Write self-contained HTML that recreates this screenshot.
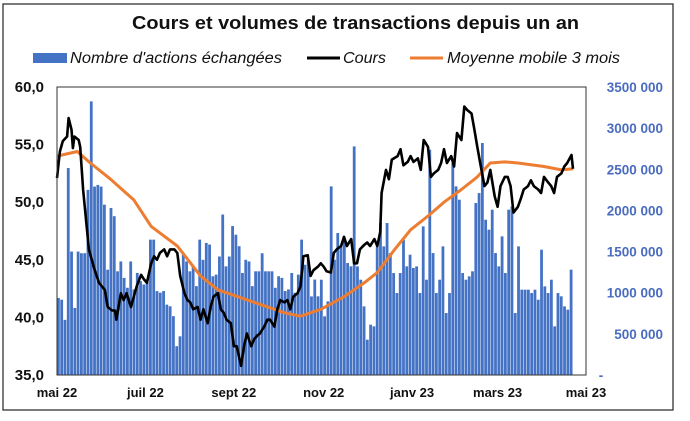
<!DOCTYPE html>
<html><head><meta charset="utf-8"><style>
body{margin:0;background:#fff;}
svg text{font-family:"Liberation Sans",Arial,sans-serif;}
</style></head><body>
<svg id="chart" width="690" height="416" viewBox="0 0 690 416" xmlns="http://www.w3.org/2000/svg">
<rect x="3" y="4" width="670" height="406" fill="#fff" stroke="#222" stroke-width="1.2"/>
<text x="132" y="29" font-weight="bold" font-size="18.5" textLength="447" lengthAdjust="spacingAndGlyphs" fill="#111">Cours et volumes de transactions  depuis un an</text>
<g>
<g><rect x="33" y="53" width="34" height="10" fill="#4472C4"/><text x="70" y="63" font-style="italic" font-size="15.5" fill="#111" textLength="212" lengthAdjust="spacingAndGlyphs">Nombre d'actions échangées</text></g>
<g><line x1="307" y1="58" x2="340" y2="58" stroke="#000" stroke-width="3"/><text x="343" y="63" font-style="italic" font-size="15.5" fill="#111" textLength="43" lengthAdjust="spacingAndGlyphs">Cours</text></g>
<g><line x1="410" y1="58" x2="443" y2="58" stroke="#ED7D31" stroke-width="3"/><text x="447" y="63" font-style="italic" font-size="15.5" fill="#111" textLength="173" lengthAdjust="spacingAndGlyphs">Moyenne mobile 3 mois</text></g>
</g>
<g id="bars"></g>
<path id="ma" fill="none" stroke="#ED7D31" stroke-width="3" stroke-linejoin="round"/>
<path id="price" fill="none" stroke="#000" stroke-width="2.6" stroke-linejoin="round"/>
<rect x="57" y="87" width="529" height="288" fill="none" stroke="#333" stroke-width="1"/>
<g id="yleft"></g>
<g id="yright"></g>
<g id="xaxis"></g>
</svg>
<script>
const volumes=[936,915,670,2515,1500,815,1500,1480,1480,2250,3325,2290,2310,2290,2070,1280,2030,1930,1260,1380,1180,1060,1380,1040,1240,1140,1100,1160,1645,1645,1020,1000,1020,855,835,715,350,470,1480,1380,1260,1320,1080,1645,1400,1605,1585,1200,1220,1440,1950,1320,1440,1810,1705,1565,1240,1400,1380,1080,1260,1260,1480,1260,1260,1260,1060,1200,1180,1020,1040,1240,1000,1220,1645,1340,1400,955,1160,
956,1158,713,895,2292,1401,1725,1563,1644,1361,1320,2778,1320,1158,834,429,612,591,1563,1847,1563,1847,1482,1239,996,1239,1644,1320,1462,1300,1320,996,1806,1158,2738,1482,996,1158,1563,753,996,2576,2292,2130,1239,1158,1199,1260,2090,2211,2819,1887,1766,2009,1482,1320,1685,1239,2009,2049,753,1563,1037,1037,1037,996,1037,915,1523,1077,996,1158,591,996,956,834,794,1280];
const priceDays=[0,2,4,7,8,10,11,12,15,16,18,20,22,24,26,29,31,33,35,38,40,41,44,46,48,51,53,55,58,60,62,65,67,69,71,74,76,78,81,83,85,88,90,92,94,97,99,101,104,106,108,111,113,115,117,120,122,124,127,129,131,134,136,138,140,143,145,147,150,152,154,157,159,161,163,166,168,170,173,175,177,180,182,184,186,189,191,193,196,198,200,203,205,207,209,212,214,216,219,221,223,224,227,229,231,235,237,239,242,244,246,249,251,253,256,258,260,263,265,267,269,272,274,276,279,281,283,286,288,290,292,295,297,299,302,304,306,309,311,313,315,318,320,322,325,327,329,332,334,336,339,341,343,345,348,350,352,355,356];
const prices=[52.1,54.4,55.3,55.7,57.3,56.3,54.7,55.7,55.4,54.8,51.1,48.5,45.9,45.0,44.1,43.0,42.7,42.4,40.9,40.6,40.6,39.8,42.1,41.5,42.1,40.9,41.8,42.7,43.7,43.3,43.0,44.7,45.3,45.0,45.6,45.9,45.3,45.9,45.9,45.6,43.6,42.1,41.5,41.3,40.7,40.9,39.8,40.7,39.5,40.9,41.8,42.1,40.7,40.4,39.8,39.5,37.5,37.5,35.8,37.5,38.6,37.5,38.1,38.4,38.6,39.2,39.8,39.8,39.2,40.7,41.5,41.3,41.5,40.7,41.8,42.1,42.7,45.3,45.4,43.6,44.1,44.4,44.7,44.4,44.0,43.9,45.6,45.9,46.2,47.0,46.2,46.8,44.7,44.7,45.9,46.3,46.5,46.2,46.8,46.2,47.4,50.8,52.8,52.0,53.7,54.0,54.6,53.2,53.5,54.0,53.5,53.8,52.8,55.4,54.8,52.2,52.5,52.8,53.4,54.6,53.4,54.0,53.1,56.0,55.4,58.3,58.0,57.7,56.3,54.8,53.4,51.4,51.7,52.8,50.5,49.6,51.4,52.2,52.2,51.4,49.1,49.6,50.3,51.1,51.4,51.9,51.4,51.1,50.8,52.2,51.7,51.4,50.8,52.2,52.5,53.1,53.4,54.1,52.9];
const maDays=[0,14,23,37,53,65,83,99,111,134,157,168,182,198,212,221,233,244,256,267,279,290,299,309,318,336,348,356];
const maValues=[54.0,54.4,53.4,52.0,50.2,47.9,46.2,43.6,42.4,41.4,40.4,40.1,40.7,41.8,43.0,43.9,45.9,47.6,48.8,50.0,51.1,52.2,53.4,53.5,53.4,53.1,52.8,52.9];
const leftTicks=[35,40,45,50,55,60];
const rightTicks=[0,500,1000,1500,2000,2500,3000,3500];
const xTickLabels=["mai 22","juil 22","sept 22","nov 22","janv 23","mars 23","mai 23"];
const xTickDays=[0,61,122,184,245,304,365];

const X0=57,X1=586,Y0=375,Y1=87,BAR_END=573;
const xDay=d=>X0+d/365*(X1-X0);
const yPrice=p=>Y0-(p-35)/25*(Y0-Y1);
const yVol=v=>Y0-v/3500*(Y0-Y1);
const NS="http://www.w3.org/2000/svg";
const bars=document.getElementById('bars');
const step=(BAR_END-X0)/volumes.length;
volumes.forEach((v,i)=>{
  const r=document.createElementNS(NS,'rect');
  r.setAttribute('x',(X0+i*step).toFixed(2));
  r.setAttribute('y',yVol(v).toFixed(2));
  r.setAttribute('width',(step-0.5).toFixed(2));
  r.setAttribute('height',(Y0-yVol(v)).toFixed(2));
  r.setAttribute('fill','#4472C4');
  
  
  bars.appendChild(r);
});
document.getElementById('price').setAttribute('d',prices.map((p,i)=>(i?'L':'M')+xDay(priceDays[i]).toFixed(1)+','+yPrice(p).toFixed(1)).join(''));
document.getElementById('ma').setAttribute('d',maValues.map((p,i)=>(i?'L':'M')+xDay(maDays[i]).toFixed(1)+','+yPrice(p).toFixed(1)).join(''));
const yl=document.getElementById('yleft');
leftTicks.forEach(t=>{
  const tx=document.createElementNS(NS,'text');
  tx.setAttribute('x',44);tx.setAttribute('y',(yPrice(t)+5).toFixed(1));
  tx.setAttribute('text-anchor','end');tx.setAttribute('font-weight','bold');tx.setAttribute('font-size','15');tx.setAttribute('fill','#111');
  tx.textContent=t.toFixed(1).replace('.',',');
  
  
  yl.appendChild(tx);
});
const yr=document.getElementById('yright');
rightTicks.forEach(t=>{
  const tx=document.createElementNS(NS,'text');
  tx.setAttribute('x',t===0?601:663);tx.setAttribute('y',(yVol(t)+5).toFixed(1));
  tx.setAttribute('text-anchor',t===0?'middle':'end');tx.setAttribute('font-weight','bold');tx.setAttribute('font-size','13.5');tx.setAttribute('fill','#4a6cc0');
  tx.textContent=t===0?'-':String(t*1000).slice(0,-3)+' 000';
  
  
  yr.appendChild(tx);
});
const xa=document.getElementById('xaxis');
xTickLabels.forEach((l,i)=>{
  const tx=document.createElementNS(NS,'text');
  tx.setAttribute('x',xDay(xTickDays[i]).toFixed(1));tx.setAttribute('y',397);
  tx.setAttribute('text-anchor','middle');tx.setAttribute('font-weight','bold');tx.setAttribute('font-size','13');tx.setAttribute('fill','#111');
  tx.textContent=l;
  
  
  xa.appendChild(tx);
});
</script>
</body></html>
